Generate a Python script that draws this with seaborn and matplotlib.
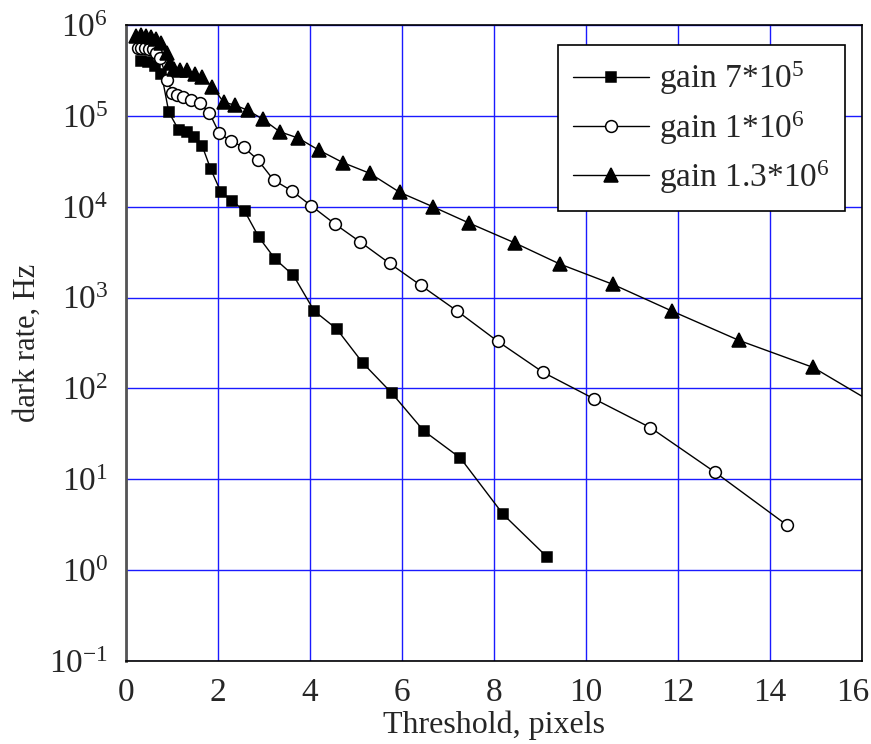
import numpy as np
import pandas as pd
import matplotlib
matplotlib.use("Agg")
import matplotlib.pyplot as plt
import seaborn as sns
from matplotlib.ticker import LogLocator, MultipleLocator, NullFormatter, FuncFormatter

# gain 7*10^5 (filled squares)
x_g7 = [0.33, 0.47, 0.62, 0.77, 0.93, 1.15, 1.32, 1.48, 1.66, 1.84, 2.06, 2.31,
        2.58, 2.89, 3.24, 3.64, 4.09, 4.58, 5.15, 5.78, 6.47, 7.27, 8.2, 9.15]
y_g7 = [4.0e5, 3.9e5, 3.5e5, 2.9e5, 1.1e5, 6.9e4, 6.6e4, 5.8e4, 4.6e4, 2.6e4, 1.46e4, 1.16e4,
        8.9e3, 4.6e3, 2.66e3, 1.75e3, 713, 451, 190, 88.5, 34.2, 17.1, 4.1, 1.4]

# gain 1*10^6 (open circles)
x_g10 = [0.25, 0.33, 0.42, 0.5, 0.58, 0.65, 0.74, 0.9, 1.0, 1.11, 1.24, 1.42, 1.6,
         1.81, 2.03, 2.28, 2.56, 2.86, 3.21, 3.6, 4.03, 4.55, 5.09, 5.73, 6.41, 7.2,
         8.08, 9.07, 10.17, 11.4, 12.8, 14.36]
y_g10 = [5.6e5, 5.6e5, 5.6e5, 5.5e5, 5.4e5, 4.9e5, 4.3e5, 2.5e5, 1.8e5, 1.7e5, 1.6e5, 1.5e5, 1.4e5,
         1.08e5, 6.4e4, 5.3e4, 4.5e4, 3.3e4, 1.96e4, 1.5e4, 1.02e4, 6.4e3, 4.1e3, 2.38e3, 1.36e3, 710,
         330, 150, 77, 37, 12, 3.15]

# gain 1.3*10^6 (filled triangles)
x_g13 = [0.22, 0.33, 0.44, 0.55, 0.66, 0.77, 0.88, 0.96, 1.05, 1.18, 1.33, 1.49, 1.65,
         1.87, 2.12, 2.37, 2.65, 2.97, 3.34, 3.74, 4.19, 4.72, 5.3, 5.95, 6.67, 7.46,
         8.45, 9.43, 10.58, 11.86, 13.33, 14.94, 16.5]
y_g13 = [7.6e5, 7.7e5, 7.6e5, 7.4e5, 7.0e5, 6.3e5, 4.9e5, 3.8e5, 3.3e5, 3.2e5, 3.2e5, 2.9e5, 2.7e5,
         2.1e5, 1.42e5, 1.31e5, 1.15e5, 9.2e4, 6.7e4, 5.7e4, 4.2e4, 3.05e4, 2.33e4, 1.44e4, 1.0e4, 6.6e3,
         4.0e3, 2.34e3, 1.4e3, 713, 337, 170, 58]

labels = ["gain 7*10$^5$", "gain 1*10$^6$", "gain 1.3*10$^6$"]

sns.set_style("white")
plt.rcParams["font.family"] = ["Liberation Serif", "DejaVu Serif"]
plt.rcParams["mathtext.fontset"] = "custom"
plt.rcParams["mathtext.rm"] = "Liberation Serif"
plt.rcParams["mathtext.default"] = "regular"

fig = plt.figure(figsize=(8.71, 7.44), dpi=100)
ax = fig.add_axes([0.1447, 0.1116, 0.845, 0.8548])
ax.set_yscale("log")

series = [
    (x_g7, y_g7, dict(marker="s", markersize=7.5, markerfacecolor="black")),
    (x_g10, y_g10, dict(marker="o", markersize=8.5, markerfacecolor="white")),
    (x_g13, y_g13, dict(marker="^", markersize=10, markerfacecolor="black")),
]
for (xs, ys, kw), lab in zip(series, labels):
    d = pd.DataFrame({"x": xs, "y": ys})
    sns.lineplot(data=d, x="x", y="y", ax=ax, color="black", linewidth=1,
                 markeredgecolor="black", markeredgewidth=1.1, label=lab, **kw)

xmax = 16
ax.set_xlim(0, xmax)
ax.set_ylim(0.1, 1e6)
ax.xaxis.set_major_locator(MultipleLocator(2))
ax.xaxis.set_minor_locator(MultipleLocator(1))
# the last x label is drawn separately, nudged left so it stays inside the figure
ax.xaxis.set_major_formatter(FuncFormatter(lambda v, p: "" if v >= xmax else f"{v:g}"))
ax.yaxis.set_major_locator(LogLocator(base=10, numticks=20))
ax.yaxis.set_minor_locator(LogLocator(base=10, subs=np.arange(2, 10), numticks=20))
ax.yaxis.set_minor_formatter(NullFormatter())

ax.grid(True, which="major", color="#1a1aff", linewidth=1)
ax.set_axisbelow(True)
for s in ax.spines.values():
    s.set_color("black")
    s.set_linewidth(1.2)
ax.spines["left"].set_color("#555555")
ax.spines["left"].set_linewidth(2)

ax.tick_params(axis="both", which="major", direction="out", length=8, width=1,
               labelsize=24, color="black")
ax.tick_params(axis="x", which="major", pad=4)
ax.tick_params(axis="y", which="major", pad=5)
ax.tick_params(axis="both", which="minor", direction="out", length=4, width=1, color="black")
ax.tick_params(top=False, right=False, which="both")

ax.annotate(f"{xmax:g}", xy=(xmax, 0), xycoords=("data", "axes fraction"),
            xytext=(-7, -12), textcoords="offset points", ha="center", va="top",
            fontsize=24)

ax.set_xlabel("Threshold, pixels", fontsize=23, labelpad=2)
ax.set_ylabel("dark rate, Hz", fontsize=22, labelpad=5)

leg = ax.legend(loc="upper right", bbox_to_anchor=(0.977, 0.969), borderaxespad=0,
                fontsize=24, frameon=True, fancybox=False, framealpha=1,
                edgecolor="black", handlelength=2.3, labelspacing=0.35,
                borderpad=0.45, handletextpad=0.3)
leg.get_frame().set_linewidth(1.2)

fig.savefig("out.png", dpi=100)
